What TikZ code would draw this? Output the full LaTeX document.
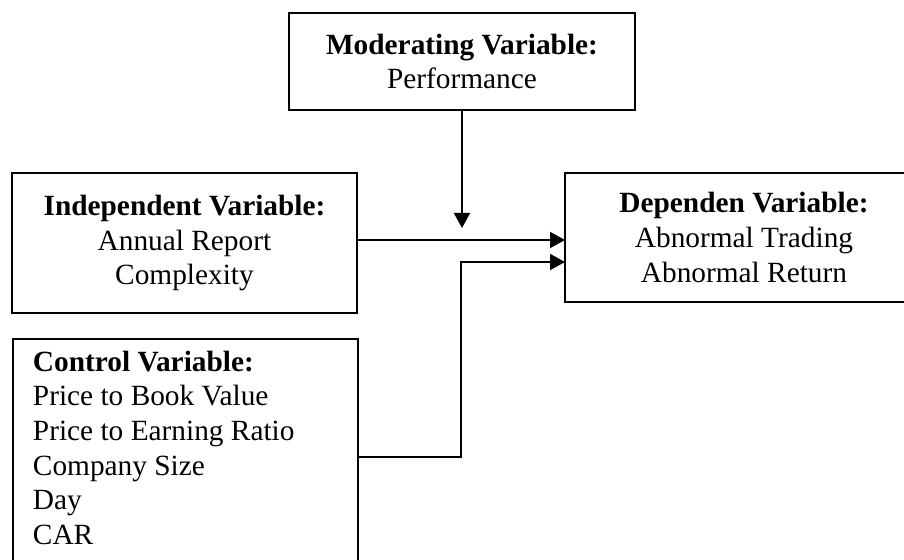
\documentclass[tikz,border=0pt]{standalone}
\usepackage{fontspec}
\setmainfont{Liberation Serif}
\usepackage{tikz}
\usetikzlibrary{positioning}
\usetikzlibrary{arrows.meta}

\tikzset{
  varbox/.style={draw, line width=1.1pt, align=center, inner sep=0pt,
    font=\fontsize{16.7}{19.7}\selectfont},
  conn/.style={line width=1.1pt, -{Triangle[length=0.3cm,width=0.32cm]}}
}

\begin{document}
\begin{tikzpicture}[x=0.02cm,y=-0.02cm]
\clip (0,0) rectangle (904,560);
\node[varbox, minimum width=6.92cm, minimum height=1.94cm] (mod) at (462,61.5)
  {\textbf{Moderating Variable:}\\Performance};
\node[varbox, minimum width=6.9cm, minimum height=2.8cm] (ind) at (184.5,243)
  {\textbf{Independent Variable:}\\Annual Report\\Complexity};
\node[varbox, minimum width=7.16cm, minimum height=2.58cm] (dep) at (744,237.5)
  {\textbf{Dependen Variable:}\\Abnormal Trading\\Abnormal Return};
% left aligned list, bottom edge runs off the page
\node[varbox, anchor=north west, align=flush left, text width=6.1cm,
  inner xsep=0.4cm, inner ysep=6.8pt, text depth=120pt] (ctrl) at (12,338)
  {\textbf{Control Variable:}\\Price to Book Value\\Price to Earning Ratio\\Company Size\\Day\\CAR};
\coordinate (join) at (462,228);
\coordinate (inA) at (565,240);
\coordinate (inB) at (565,262);
\coordinate (bend) at (461,457);
\draw[conn] (mod.south) -- (join);
\draw[conn] (ind.east |- inA) -- (inA);
\draw[conn] (ctrl.east |- bend) -- (bend) |- (inB);
\end{tikzpicture}
\end{document}
